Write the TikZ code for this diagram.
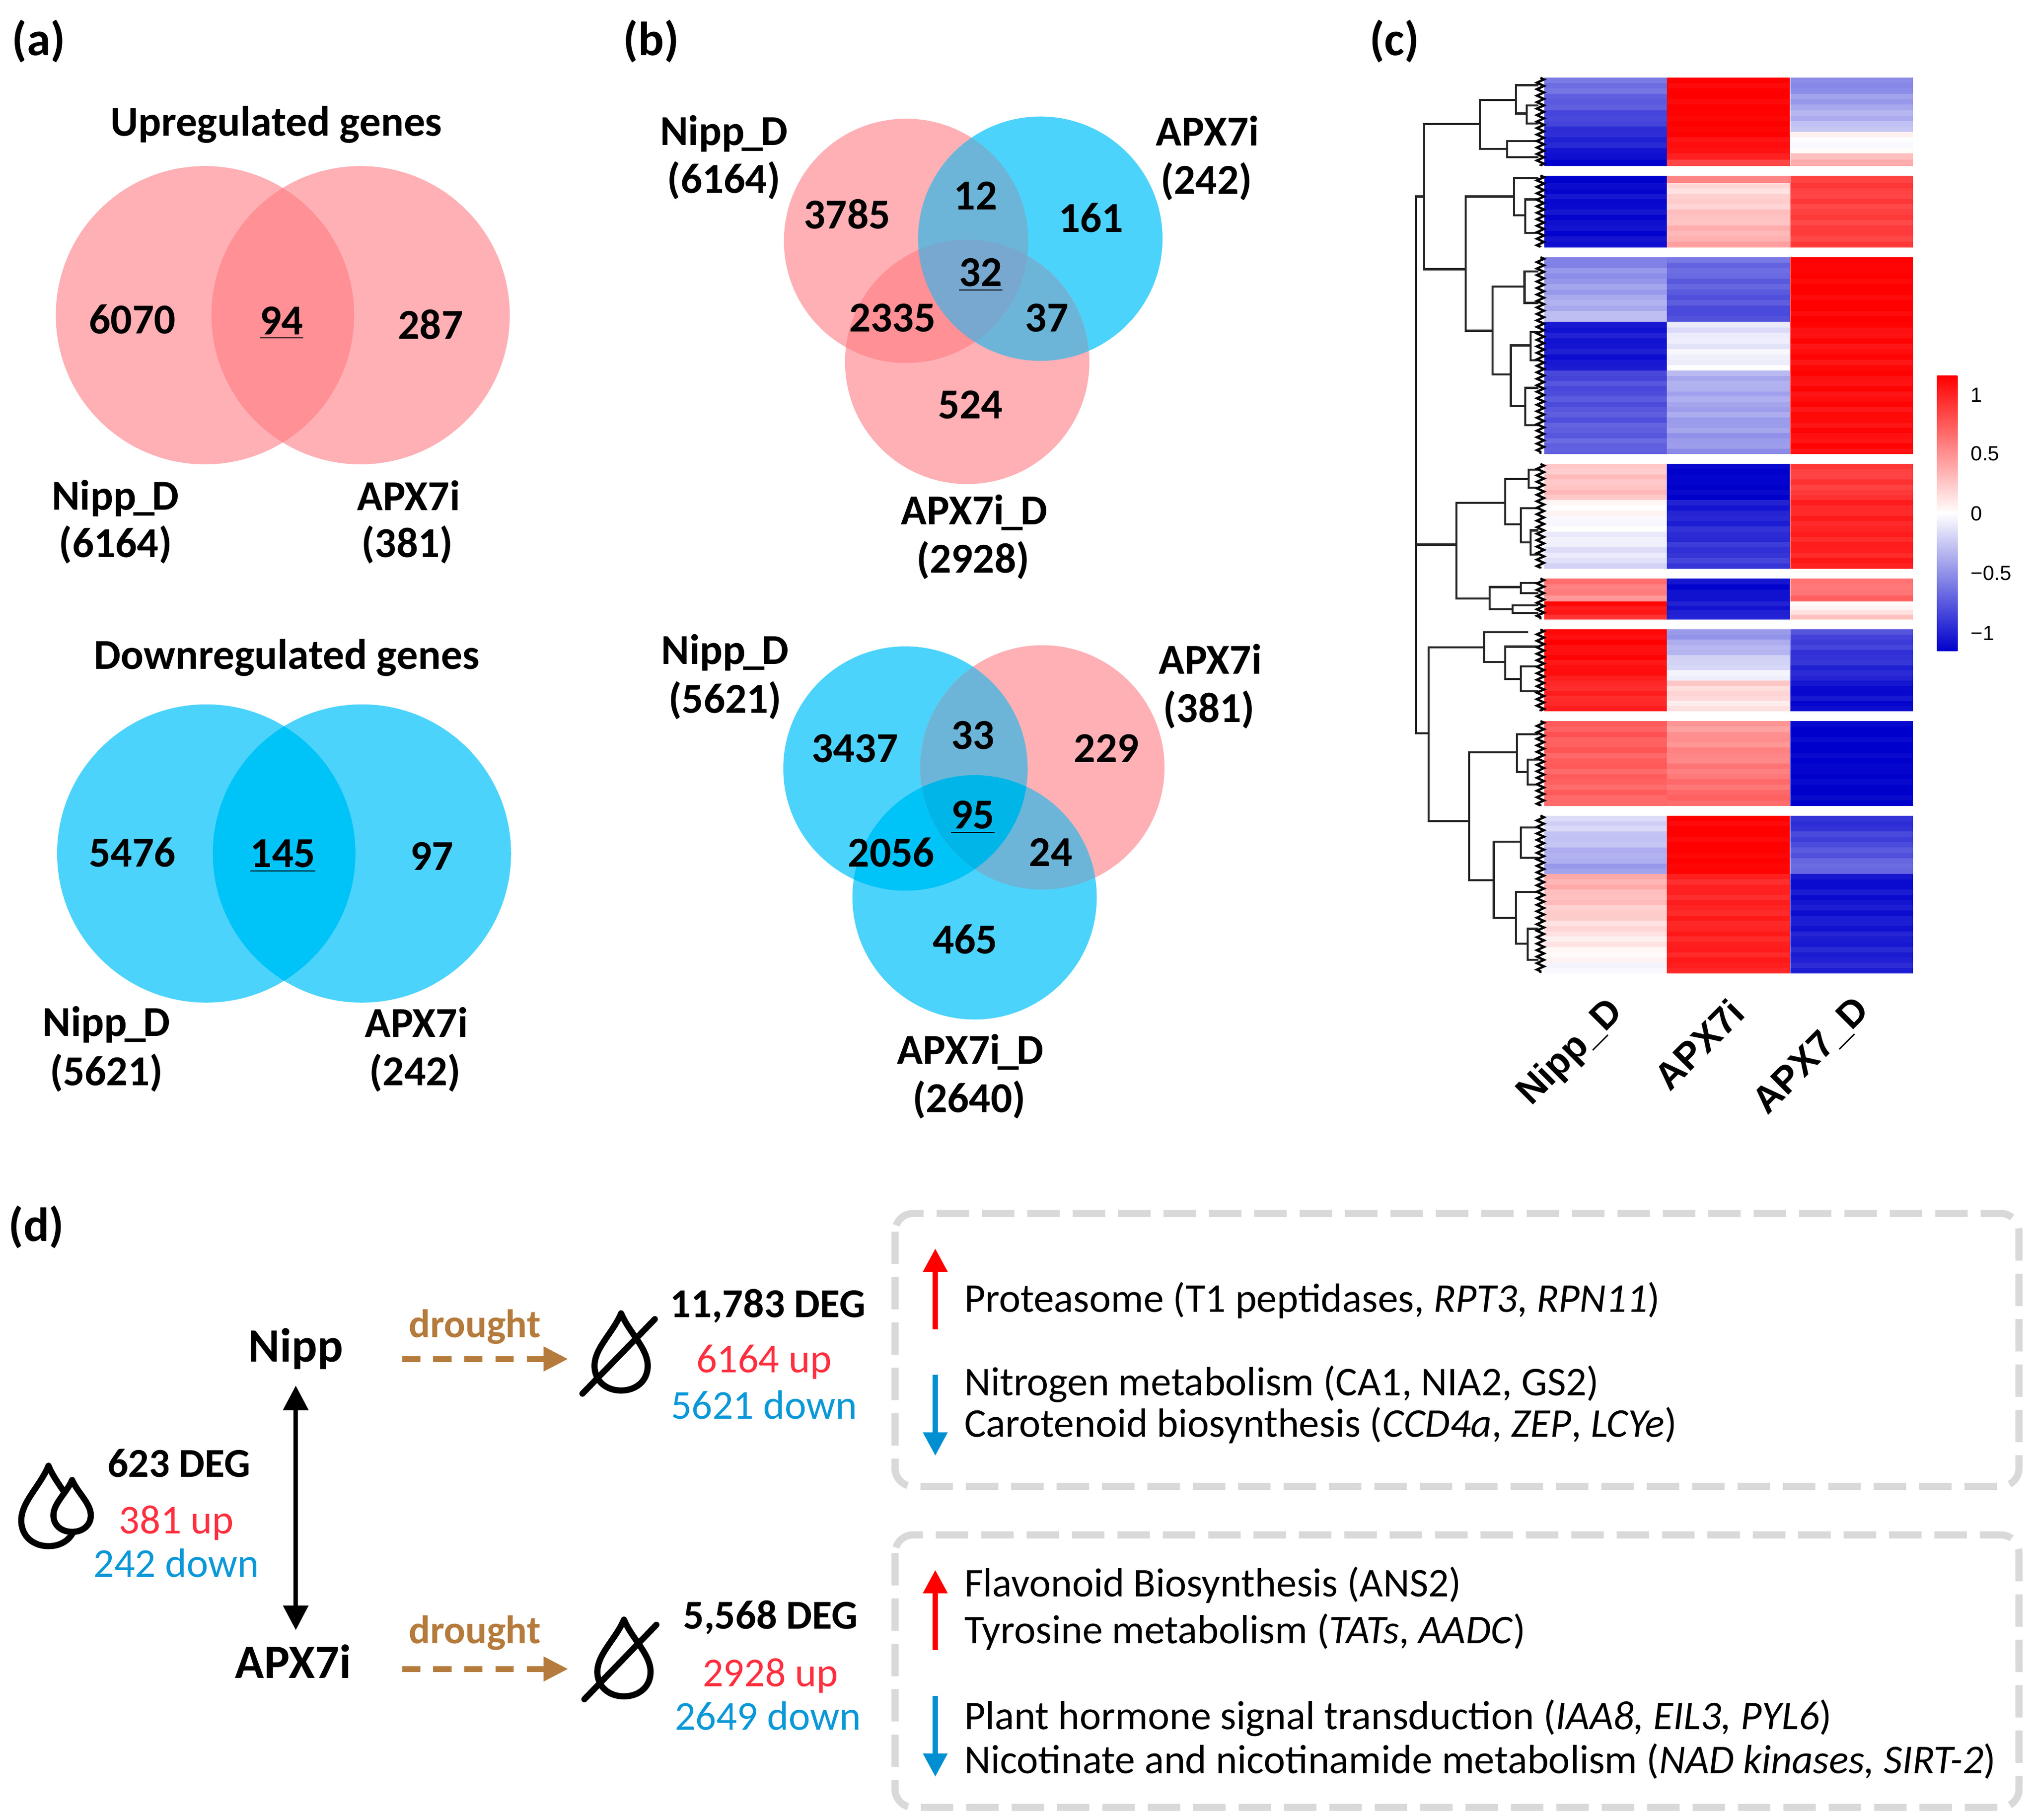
\documentclass[tikz,border=0pt]{standalone}
\usepackage{fontspec}
\setmainfont{Carlito}
\newfontfamily\heatfont{Liberation Sans}
\usetikzlibrary{arrows.meta,decorations.pathmorphing}

\definecolor{pinkone}{HTML}{FFB0B5}
\definecolor{pinktwo}{HTML}{FF9096}
\definecolor{skyone}{HTML}{4CD3FB}
\definecolor{skytwo}{HTML}{00C3F8}
\definecolor{mixtwo}{HTML}{6CB5D8}
\definecolor{mixpink}{HTML}{78A8CF}
\definecolor{mixsky}{HTML}{00B6E9}
\definecolor{hmblue}{RGB}{0,0,205}
\definecolor{hmred}{RGB}{255,0,0}
\definecolor{upred}{HTML}{FF2F3F}
\definecolor{downblue}{HTML}{0A98D8}
\definecolor{arrowblue}{HTML}{0090D2}
\definecolor{droughtbrown}{HTML}{B57B3C}
\definecolor{boxgray}{HTML}{D9D9D9}

\newcommand{\usc}{\kern-0.06em\_\kern-0.06em}

\tikzset{
	boldlab/.style={font=\fontsize{18.7}{20}\selectfont\bfseries,inner sep=0pt},
	deglab/.style={font=\fontsize{18}{20}\selectfont\bfseries,inner sep=0pt},
	taglab/.style={font=\fontsize{21}{23}\selectfont\bfseries,inner sep=0pt},
	bigdlab/.style={font=\fontsize{21}{23}\selectfont\bfseries,inner sep=0pt},
	uplab/.style={font=\fontsize{18}{20}\selectfont,text=upred,inner sep=0pt},
	downlab/.style={font=\fontsize{18}{20}\selectfont,text=downblue,inner sep=0pt},
	droughtlab/.style={font=\fontsize{17.5}{20}\selectfont\bfseries,text=droughtbrown,inner sep=0pt},
	pathlab/.style={font=\fontsize{17.9}{20}\selectfont,anchor=west,inner sep=0pt},
	heatlab/.style={font=\heatfont\fontsize{16.5}{18}\selectfont\bfseries,rotate=45,inner sep=0pt},
	barlab/.style={font=\heatfont\fontsize{9}{10}\selectfont,anchor=west,inner sep=0pt},
	dendroline/.style={line width=0.032cm,black!85},
	leafline/.style={line width=0.035cm,black,decorate,decoration={zigzag,amplitude=0.055cm,segment length=0.1cm}},
	dropline/.style={line width=0.095cm,black,fill=white,line join=round},
	groupbox/.style={draw=boxgray,line width=0.11cm,rounded corners=0.28cm,dash pattern=on 0.5cm off 0.2cm},
	droughtarrow/.style={draw=droughtbrown,line width=0.09cm,dash pattern=on 0.28cm off 0.2cm,
		-{Triangle[length=0.38cm,width=0.36cm]}},
	uparrow/.style={draw=red,line width=0.08cm,-{Triangle[length=0.36cm,width=0.36cm]}},
	downarrow/.style={draw=arrowblue,line width=0.08cm,-{Triangle[length=0.36cm,width=0.36cm]}},
	bothways/.style={draw=black,line width=0.065cm,shorten <=0.24cm,shorten >=0.22cm,
		{Triangle[length=0.38cm,width=0.38cm]}-{Triangle[length=0.38cm,width=0.38cm]}},
}

% one stretch of heatmap rows: ytop, ybottom, three top values, three bottom values
\newcommand{\hmband}[8]{%
	\pgfmathtruncatemacro{\hmrows}{max(1,round((#2-#1)/4))}
	\foreach \hmr in {1,...,\hmrows}{
		\pgfmathsetmacro{\hmya}{#1+(\hmr-1)*(#2-#1)/\hmrows}
		\pgfmathsetmacro{\hmyb}{#1+\hmr*(#2-#1)/\hmrows}
		\foreach \hmx/\hmt/\hmb in {1190.6/#3/#6,1285/#4/#7,1380/#5/#8}{
			\pgfmathsetmacro{\hmval}{max(-100,min(100,\hmt+(\hmb-\hmt)*(\hmr-0.5)/\hmrows+4*sin(\hmr*130+\hmx*7)))}
			\pgfmathsetmacro{\hmabs}{abs(\hmval)}
			\ifdim\hmval pt<0pt
				\fill[hmblue!\hmabs!white] (\hmx,\hmya) rectangle (\hmx+94.7,\hmyb+0.2);
			\else
				\fill[hmred!\hmabs!white] (\hmx,\hmya) rectangle (\hmx+94.7,\hmyb+0.2);
			\fi
		}
	}
}

% water drop: tip x, tip y, half width, height
\newcommand{\waterdrop}[4]{%
	\draw[dropline] (#1,#2) .. controls ({#1-0.3*#3},{#2+0.25*#4}) and ({#1-#3},{#2+0.45*#4}) .. ({#1-#3},{#2+0.68*#4})
		.. controls ({#1-#3},{#2+0.88*#4}) and ({#1-0.55*#3},{#2+#4}) .. (#1,{#2+#4})
		.. controls ({#1+0.55*#3},{#2+#4}) and ({#1+#3},{#2+0.88*#4}) .. ({#1+#3},{#2+0.68*#4})
		.. controls ({#1+#3},{#2+0.45*#4}) and ({#1+0.3*#3},{#2+0.25*#4}) .. cycle;
}

\begin{document}
\begin{tikzpicture}[x=0.02cm,y=-0.02cm]
	\useasboundingbox (0,0) rectangle (1568,1403.1);
	
	% Panel (a) venns
	\fill[pinkone] (158,243) circle (2.3cm);
	\fill[pinkone] (278,243) circle (2.3cm);
	\begin{scope}
		\clip (158,243) circle (2.3cm);
		\fill[pinktwo] (278,243) circle (2.3cm);
	\end{scope}
	\fill[skyone] (159,658) circle (2.3cm);
	\fill[skyone] (279,658) circle (2.3cm);
	\begin{scope}
		\clip (159,658) circle (2.3cm);
		\fill[skytwo] (279,658) circle (2.3cm);
	\end{scope}
	
	% Panel (b) upper venn
	\fill[pinkone] (698.5,185.7) circle (1.884cm);
	\fill[skyone] (802,184) circle (1.884cm);
	\fill[pinkone] (745.6,279) circle (1.884cm);
	\begin{scope}
		\clip (698.5,185.7) circle (1.884cm);
		\fill[pinktwo] (745.6,279) circle (1.884cm);
	\end{scope}
	\begin{scope}
		\clip (802,184) circle (1.884cm);
		\fill[mixtwo] (698.5,185.7) circle (1.884cm);
		\fill[mixtwo] (745.6,279) circle (1.884cm);
		\clip (698.5,185.7) circle (1.884cm);
		\fill[mixpink] (745.6,279) circle (1.884cm);
	\end{scope}
	
	% Panel (b) lower venn
	\fill[skyone] (698,592.5) circle (1.884cm);
	\fill[pinkone] (803.5,591.6) circle (1.884cm);
	\fill[skyone] (751.3,691.8) circle (1.884cm);
	\begin{scope}
		\clip (698,592.5) circle (1.884cm);
		\fill[skytwo] (751.3,691.8) circle (1.884cm);
	\end{scope}
	\begin{scope}
		\clip (803.5,591.6) circle (1.884cm);
		\fill[mixtwo] (698,592.5) circle (1.884cm);
		\fill[mixtwo] (751.3,691.8) circle (1.884cm);
		\clip (698,592.5) circle (1.884cm);
		\fill[mixsky] (751.3,691.8) circle (1.884cm);
	\end{scope}
	
	% Panel tags
	\foreach \nm/\px/\py/\lbl in {tagA/30/32/(a), tagB/502/32/(b), tagC/1075/32/(c), tagD/28/946/(d)}{
		\node[taglab] (\nm) at (\px,\py) {\lbl};
	}
	
	% Bold labels of the venns
	\foreach \nm/\px/\py/\lbl in {
		upT/213/96/Upregulated genes, upL/102/246/6070, upM/217/249/\underline{94}, upR/332/250/287,
		upNa/89/384/Nipp\usc D, upNb/89/420/(6164), upAa/315/382/APX7i, upAb/314/420/(381),
		dnT/221/507/Downregulated genes, dnL/102/657/5476, dnM/218/660/\underline{145}, dnR/333/660/97,
		dnNa/82/790/Nipp\usc D, dnNb/82/827/(5621), dnAa/321/788/APX7i, dnAb/320/827/(242),
		bunA/558/103/Nipp\usc D, bunB/558/139/(6164), buaA/931/101/APX7i, buaB/930/140/(242),
		bu1/653/165/3785, bu2/752/151/12, bu3/841/168/161, bu4/756/212/\underline{32},
		bu5/688/245/2335, bu6/807/245/37, bu7/748/312/524, budA/751/395/APX7i\usc D, budB/750/432/(2928),
		bdnA/559/503/Nipp\usc D, bdnB/559/540/(5621), bdaA/933/508/APX7i, bdaB/932/547/(381),
		bd1/659/577/3437, bd2/750/567/33, bd3/853/577/229, bd4/750/630/\underline{95},
		bd5/687/657/2056, bd6/810/657/24, bd7/744/724/465, bddA/748/811/APX7i\usc D, bddB/747/848/(2640)%
	}{
		\node[boldlab] (\nm) at (\px,\py) {\lbl};
	}
	
	% Panel (c) heatmap, block by block
	\hmband{59.8}{101.6}{-50}{100}{-50}{-80}{100}{-22}
	\hmband{101.6}{118}{-80}{100}{3}{-92}{90}{-3}
	\hmband{118}{127.8}{-92}{88}{15}{-100}{72}{40}
	\hmband{135.3}{141}{-100}{50}{70}{-100}{40}{70}
	\hmband{141}{190.5}{-95}{12}{75}{-95}{35}{75}
	\hmband{198.3}{248.2}{-50}{-55}{100}{-25}{-72}{100}
	\hmband{248.2}{285.6}{-90}{-12}{95}{-92}{-3}{95}
	\hmband{285.6}{349.9}{-72}{-30}{95}{-60}{-42}{95}
	\hmband{357.7}{385.5}{22}{-100}{75}{25}{-100}{78}
	\hmband{385.5}{438.2}{5}{-90}{85}{-15}{-75}{88}
	\hmband{446}{463.5}{60}{-95}{50}{40}{-95}{60}
	\hmband{463.5}{477.5}{100}{-90}{-5}{80}{-88}{25}
	\hmband{485.3}{524.7}{98}{-45}{-70}{92}{-2}{-88}
	\hmband{524.7}{548.2}{85}{20}{-95}{85}{8}{-95}
	\hmband{555.9}{621.3}{65}{38}{-100}{60}{62}{-100}
	\hmband{628.8}{673.8}{-12}{100}{-85}{-40}{100}{-55}
	\hmband{673.8}{750.2}{35}{85}{-95}{-4}{88}{-85}
	
	% Dendrogram: middle x, upper y, lower y, upper end x, lower end x
	\foreach \xm/\ya/\yb/\xa/\xb in {
		1091.5/151.5/565.3/1098/1101.4, 1098/95.6/207.6/1140.7/1129.9,
		1140.7/77.2/114.7/1168.6/1162, 1168.6/65.7/87.5/1186/1176.8, 1176.8/81.3/95.3/1186/1186,
		1162/108.7/121.2/1186/1186, 1129.9/151.5/255/1167/1150.6, 1167/137.4/166.1/1186/1175.8,
		1175.8/153.7/179.6/1186/1186, 1150.6/221/288.8/1175.2/1164.7, 1175.2/209.2/233.5/1186/1186,
		1164.7/266.3/313.1/1180/1175.8, 1180/256/277.8/1186/1186, 1175.8/299/327.8/1186/1186,
		1122.7/387.7/461.3/1160.4/1148.3, 1160.4/369.3/404.2/1178.4/1172.5, 1178.4/362/376/1186/1186,
		1172.5/391.7/418.2/1186/1180, 1180/408.9/427.6/1186/1186, 1148.3/452.6/469.7/1172.5/1166,
		1172.5/449.4/457.2/1186/1186, 1166/466.6/472.8/1186/1186, 1101.4/499/633/1144/1132.5,
		1144/487.5/510.4/1178/1160.4, 1160.4/498.5/523.4/1186/1172.5, 1172.5/513.7/533/1186/1186,
		1132.5/580/678.5/1169.3/1151.5, 1169.3/566.1/595.1/1186/1177.8, 1177.8/585.5/604.8/1186/1186,
		1151.5/649/707.7/1172.5/1168.6, 1172.5/637.9/661.4/1186/1186, 1168.6/687.6/727.6/1186/1177.8,
		1177.8/716/740/1186/1186%
	}{
		\draw[dendroline] (\xa,\ya) -- (\xm,\ya) -- (\xm,\yb) -- (\xb,\yb);
	}
	\draw[dendroline] (1091.5,419.8) -- (1122.7,419.8);
	\foreach \ya/\yb in {60/127.8,135.3/190.5,198.3/349.9,357.7/438.2,446/477.5,485.3/548.2,555.9/621.3,628.8/750.2}{
		\draw[leafline] (1187.5,\ya) -- (1187.5,\yb);
	}
	
	% Colour key
	\shade[top color=hmred,bottom color=hmblue,middle color=white] (1493.3,289.7) rectangle (1509,501.8);
	\foreach \nm/\py/\lbl in {keyA/304.4/1,keyB/349.6/0.5,keyC/395.8/0,keyD/442/−0.5,keyE/488/−1}{
		\node[barlab] (\nm) at (1519,\py) {\lbl};
	}
	\node[heatlab] (colA) at (1211,812) {Nipp\_D};
	\node[heatlab] (colB) at (1309.6,805) {APX7i};
	\node[heatlab] (colC) at (1396.6,814.5) {APX7\_D};
	
	% Panel (d) left part
	\node[bigdlab] (nippN) at (228,1040) {Nipp};
	\node[bigdlab] (apxN) at (226,1281) {APX7i};
	\draw[bothways] (nippN.south) -- (nippN.south |- apxN.north);
	
	\node[droughtlab] (dryA) at (366,1023) {drought};
	\node[droughtlab] (dryB) at (366,1259) {drought};
	\coordinate (dryAs) at (310,1047.7);
	\coordinate (dryAe) at (438,1047.7);
	\coordinate (dryBs) at (310,1286.7);
	\coordinate (dryBe) at (438,1286.7);
	\draw[droughtarrow] (dryAs) -- (dryAe);
	\draw[droughtarrow] (dryBs) -- (dryBe);
	
	\waterdrop{37.4}{1130}{21}{62}
	\waterdrop{55.6}{1141}{14.4}{40}
	\waterdrop{478.8}{1012.5}{20.5}{59.5}
	\draw[dropline,line cap=round] (449,1074.4) -- (504.8,1017);
	\waterdrop{481}{1248.6}{20.5}{59.2}
	\draw[dropline,line cap=round] (450.5,1310) -- (506,1252.6);
	
	\node[deglab] (degA) at (138,1128) {623 DEG};
	\node[deglab] (degB) at (592,1007) {11,783 DEG};
	\node[deglab] (degC) at (594,1247) {5,568 DEG};
	\node[uplab] (upA) at (136,1174) {381 up};
	\node[downlab] (downA) at (136,1205) {242 down};
	\node[uplab] (upB) at (589,1050) {6164 up};
	\node[downlab] (downB) at (589,1083) {5621 down};
	\node[uplab] (upC) at (594,1292) {2928 up};
	\node[downlab] (downC) at (592,1323) {2649 down};
	
	% Panel (d) dashed groups
	\draw[groupbox] (690,935.5) rectangle (1556.4,1145.9);
	\draw[groupbox] (690,1183.3) rectangle (1556.4,1393.4);
	
	\coordinate (arAs) at (721,1024.7);
	\coordinate (arAe) at (721,962.5);
	\coordinate (arBs) at (721,1060);
	\coordinate (arBe) at (721,1122.3);
	\coordinate (arCs) at (721,1272.3);
	\coordinate (arCe) at (721,1210.3);
	\coordinate (arDs) at (721,1307.5);
	\coordinate (arDe) at (721,1369.8);
	\draw[uparrow] (arAs) -- (arAe);
	\draw[downarrow] (arBs) -- (arBe);
	\draw[uparrow] (arCs) -- (arCe);
	\draw[downarrow] (arDs) -- (arDe);
	
	\node[pathlab] (pathA) at (743,1002.5) {Proteasome (T1 peptidases, \textit{RPT3}, \textit{RPN11})};
	\node[pathlab] (pathB) at (743,1067) {Nitrogen metabolism (CA1, NIA2, GS2)};
	\node[pathlab] (pathC) at (743,1099) {Carotenoid biosynthesis (\textit{CCD4a}, \textit{ZEP}, \textit{LCYe})};
	\node[pathlab] (pathD) at (743,1222) {Flavonoid Biosynthesis (ANS2)};
	\node[pathlab] (pathE) at (743,1258) {Tyrosine metabolism (\textit{TATs}, \textit{AADC})};
	\node[pathlab] (pathF) at (743,1324.5) {Plant hormone signal transduction (\textit{IAA8, EIL3, PYL6})};
	\node[pathlab] (pathG) at (743,1358) {Nicotinate and nicotinamide metabolism (\textit{NAD kinases, SIRT-2})};
\end{tikzpicture}
\end{document}
